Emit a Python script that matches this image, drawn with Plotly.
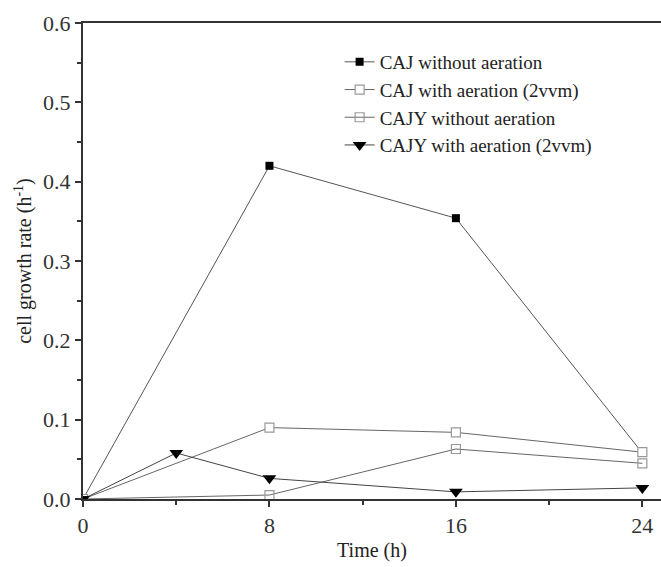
import plotly.graph_objects as go

time4 = [0, 8, 16, 24]
time5 = [0, 4, 8, 16, 24]
caj_no_air = [0.0, 0.420, 0.354, 0.058]
caj_air = [0.0, 0.090, 0.084, 0.059]
cajy_no_air = [0.0, 0.005, 0.063, 0.045]
cajy_air = [0.0, 0.058, 0.026, 0.009, 0.014]

names = ["CAJ without aeration", "CAJ with aeration (2vvm)",
         "CAJY without aeration", "CAJY with aeration (2vvm)"]

FONT = "Liberation Serif"
fig = go.Figure()
fig.add_trace(go.Scatter(x=time4, y=caj_no_air, name=names[0], mode="lines+markers",
                         line=dict(color="#555555", width=1),
                         marker=dict(symbol="square", size=8, color="black")))
fig.add_trace(go.Scatter(x=time4, y=caj_air, name=names[1], mode="lines+markers",
                         line=dict(color="#666666", width=1),
                         marker=dict(symbol="square", size=9, color="white",
                                     line=dict(color="#999999", width=1.2))))
fig.add_trace(go.Scatter(x=time4, y=cajy_no_air, name=names[2], mode="lines+markers",
                         line=dict(color="#666666", width=1),
                         marker=dict(symbol="square-open", size=9, color="#999999",
                                     line=dict(width=1.2))))
fig.add_trace(go.Scatter(x=time5, y=cajy_air, name=names[3], mode="lines+markers",
                         line=dict(color="#444444", width=1),
                         marker=dict(symbol="triangle-down", size=12, color="black")))

fig.update_layout(
    width=661, height=567,
    margin=dict(l=83, r=0, t=23, b=68),
    paper_bgcolor="white", plot_bgcolor="white",
    font=dict(family=FONT, size=22, color="#222222"),
    showlegend=True,
    legend=dict(x=0.444, y=0.958, xanchor="left", yanchor="top",
                bgcolor="rgba(0,0,0,0)", font=dict(size=19, family=FONT, color="#222222"),
                tracegroupgap=0, itemwidth=30),
    xaxis=dict(range=[0, 24.8], tickvals=[0, 8, 16, 24], showgrid=False, zeroline=False,
               showline=True, linecolor="#333333", linewidth=2, mirror=True,
               ticks="outside", ticklen=6, tickwidth=1.5, tickcolor="#333333",
               tickfont=dict(size=22, family=FONT, color="#333333"),
               minor=dict(tickvals=[4, 12, 20], ticks="outside", ticklen=4, tickcolor="#333333"),
               title=dict(text="Time (h)", font=dict(size=20, family=FONT, color="#222222"), standoff=6)),
    yaxis=dict(range=[0, 0.6], dtick=0.1, tickformat=".1f", showgrid=False, zeroline=False,
               showline=True, linecolor="#333333", linewidth=2,
               ticks="outside", ticklen=6, tickwidth=1.5, tickcolor="#333333",
               tickfont=dict(size=22, family=FONT, color="#333333"),
               minor=dict(dtick=0.05, ticks="outside", ticklen=4, tickcolor="#333333"),
               title=dict(text="cell growth rate (h<sup>-1</sup>)", font=dict(size=20, family=FONT, color="#222222"), standoff=6)),
)

fig.write_html("out.html")
